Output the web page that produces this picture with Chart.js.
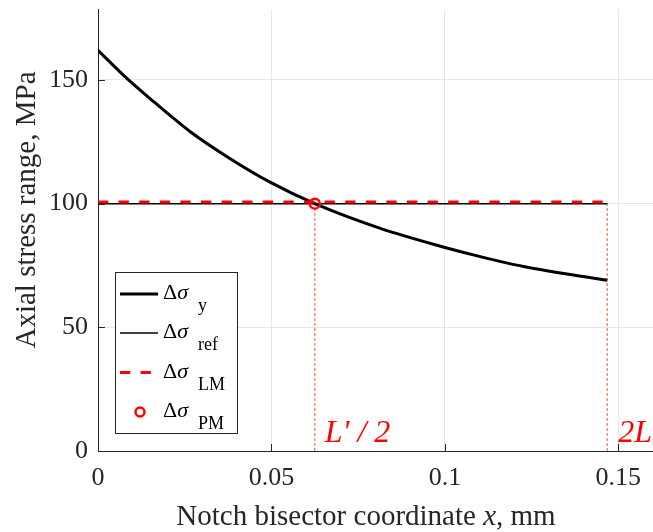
<!DOCTYPE html>
<html>
<head>
<meta charset="utf-8">
<script src="https://cdn.jsdelivr.net/npm/chart.js@4/dist/chart.umd.min.js"></script>
<style>
  html, body { margin: 0; padding: 0; background: #fff; }
  #stressChart { display: block; }
</style>
</head>
<body>
<canvas id="stressChart" width="653" height="532"></canvas>
<script>
// values
const curveX = [0, 0.0073, 0.015, 0.0265, 0.038, 0.0496, 0.0625, 0.0814, 0.0987, 0.1102, 0.1227, 0.1468];
const curveY = [162, 152, 142.5, 129.2, 118.3, 108.7, 100, 90, 82.8, 78.6, 74.6, 69];
const refLevel = 100;
const lmLevel = 100.7;
const lineEndX = 0.1468;
const pmX = 0.0625;
const pmY = 100;
const xTicks = [0, 0.05, 0.1, 0.15];
const xTickLabels = ["0", "0.05", "0.1", "0.15"];
const yTicks = [0, 50, 100, 150];
const yTickLabels = ["0", "50", "100", "150"];
const legendSubs = ["y", "ref", "LM", "PM"];
const markLabels = ["L' / 2", "2L"];

const serif = "'Liberation Serif', 'Times New Roman', serif";
const guideColor = "#ff5533";

const curve = curveX.map((x, i) => ({ x: x, y: curveY[i] }));

const overlay = {
  id: "overlay",
  afterLayout(chart) {
    // let the plot run to the right edge of the canvas
    const xs = chart.scales.x;
    xs.right = chart.width;
    xs.width = xs.right - xs.left;
    xs.configure();
    chart.chartArea.right = chart.width;
    chart.chartArea.width = chart.chartArea.right - chart.chartArea.left;
  },
  afterDraw(chart) {
    const ctx = chart.ctx;
    const xs = chart.scales.x;
    const ys = chart.scales.y;
    const area = chart.chartArea;

    // inward tick marks
    ctx.save();
    ctx.strokeStyle = "#262626";
    ctx.lineWidth = 1;
    ctx.beginPath();
    yTicks.forEach((v) => {
      const py = Math.round(ys.getPixelForValue(v)) + 0.5;
      ctx.moveTo(area.left, py);
      ctx.lineTo(area.left + 7, py);
    });
    xTicks.forEach((v) => {
      const px = Math.round(xs.getPixelForValue(v)) + 0.5;
      ctx.moveTo(px, area.bottom);
      ctx.lineTo(px, area.bottom - 7);
    });
    ctx.stroke();

    // axis titles
    ctx.fillStyle = "#262626";
    ctx.textBaseline = "alphabetic";
    ctx.font = "29px " + serif;
    ctx.save();
    ctx.translate(35, 210);
    ctx.rotate(-Math.PI / 2);
    ctx.textAlign = "center";
    ctx.fillText("Axial stress range, MPa", 0, 0);
    ctx.restore();

    const parts = [
      ["Notch bisector coordinate ", "29px " + serif],
      ["x", "italic 29px " + serif],
      [", mm", "29px " + serif],
    ];
    let total = 0;
    parts.forEach((p) => {
      ctx.font = p[1];
      total += ctx.measureText(p[0]).width;
    });
    let tx = 366 - total / 2;
    ctx.textAlign = "left";
    parts.forEach((p) => {
      ctx.font = p[1];
      ctx.fillText(p[0], tx, 525);
      tx += ctx.measureText(p[0]).width;
    });

    // red labels near the guides
    ctx.fillStyle = "#ff0000";
    ctx.font = "italic 32px " + serif;
    ctx.fillText(markLabels[0], xs.getPixelForValue(pmX) + 10, 442);
    ctx.fillText(markLabels[1], xs.getPixelForValue(lineEndX) + 11, 442);

    // legend
    const bx = 115.5, by = 272.5, bw = 122, bh = 161;
    ctx.fillStyle = "#fff";
    ctx.fillRect(bx, by, bw, bh);
    ctx.strokeStyle = "#262626";
    ctx.lineWidth = 1;
    ctx.strokeRect(bx, by, bw, bh);

    const rows = [294, 333, 372.5, 412];
    const styles = [
      { color: "#000", width: 3, dash: [] },
      { color: "#000", width: 1.5, dash: [] },
      { color: "#ff0000", width: 3, dash: [10.3, 10.3] },
      null,
    ];
    rows.forEach((cy, i) => {
      const s = styles[i];
      if (s) {
        ctx.beginPath();
        ctx.strokeStyle = s.color;
        ctx.lineWidth = s.width;
        ctx.setLineDash(s.dash);
        ctx.moveTo(120, cy);
        ctx.lineTo(158, cy);
        ctx.stroke();
        ctx.setLineDash([]);
      } else {
        ctx.beginPath();
        ctx.strokeStyle = "#ff0000";
        ctx.lineWidth = 2.5;
        ctx.arc(140, cy, 4.5, 0, Math.PI * 2);
        ctx.stroke();
      }
      ctx.fillStyle = "#000";
      ctx.font = "22px " + serif;
      ctx.fillText("\u0394", 163, cy + 5);
      const dw = ctx.measureText("\u0394").width;
      ctx.font = "italic 22px " + serif;
      ctx.fillText("\u03c3", 163 + dw, cy + 5);
      ctx.font = "18px " + serif;
      ctx.fillText(legendSubs[i], 198, cy + 17);
    });
    ctx.restore();
  },
};

new Chart(document.getElementById("stressChart"), {
  type: "scatter",
  data: {
    datasets: [
      {
        label: "PM",
        data: [{ x: pmX, y: pmY }],
        showLine: false,
        pointStyle: "circle",
        pointRadius: 5,
        pointBorderWidth: 2.5,
        pointBorderColor: "#ff0000",
        pointBackgroundColor: "rgba(0,0,0,0)",
      },
      {
        label: "LM",
        data: [{ x: 0, y: lmLevel }, { x: lineEndX, y: lmLevel }],
        showLine: true,
        borderColor: "#ff0000",
        borderWidth: 3,
        borderDash: [10.3, 10.3],
        pointRadius: 0,
      },
      {
        label: "y",
        data: curve,
        showLine: true,
        borderColor: "#000",
        borderWidth: 3,
        cubicInterpolationMode: "monotone",
        pointRadius: 0,
      },
      {
        label: "ref",
        data: [{ x: 0, y: refLevel }, { x: lineEndX, y: refLevel }],
        showLine: true,
        borderColor: "#000",
        borderWidth: 1.5,
        pointRadius: 0,
      },
      {
        label: "guide1",
        data: [{ x: pmX, y: 0 }, { x: pmX, y: pmY }],
        showLine: true,
        borderColor: guideColor,
        borderWidth: 1,
        borderDash: [3, 2],
        pointRadius: 0,
      },
      {
        label: "guide2",
        data: [{ x: lineEndX, y: 0 }, { x: lineEndX, y: lmLevel }],
        showLine: true,
        borderColor: guideColor,
        borderWidth: 1,
        borderDash: [3, 2],
        pointRadius: 0,
      },
    ],
  },
  options: {
    responsive: false,
    animation: false,
    devicePixelRatio: 1,
    layout: { padding: { top: 9.5, right: 0, left: 0, bottom: 0 } },
    plugins: {
      legend: { display: false },
      tooltip: { enabled: false },
    },
    scales: {
      x: {
        type: "linear",
        min: 0,
        max: 0.16,
        afterFit: (s) => {
          s.height = 81;
          s.paddingLeft = 0;
          s.paddingRight = 0;
        },
        afterBuildTicks: (s) => { s.ticks = xTicks.map((v) => ({ value: v })); },
        ticks: {
          callback: (v, i) => xTickLabels[i],
          font: { family: serif, size: 26 },
          color: "#262626",
          padding: 12,
          maxRotation: 0,
        },
        grid: { color: "#e6e6e6", drawTicks: false },
        border: { color: "#262626", width: 1 },
      },
      y: {
        min: 0,
        max: 178.5,
        afterFit: (s) => {
          s.width = 98;
          s.paddingTop = 0;
          s.paddingBottom = 0;
        },
        afterBuildTicks: (s) => { s.ticks = yTicks.map((v) => ({ value: v })); },
        ticks: {
          callback: (v, i) => yTickLabels[i],
          font: { family: serif, size: 26 },
          color: "#262626",
          padding: 10,
        },
        grid: { color: "#e6e6e6", drawTicks: false },
        border: { color: "#262626", width: 1 },
      },
    },
  },
  plugins: [overlay],
});
</script>
</body>
</html>
